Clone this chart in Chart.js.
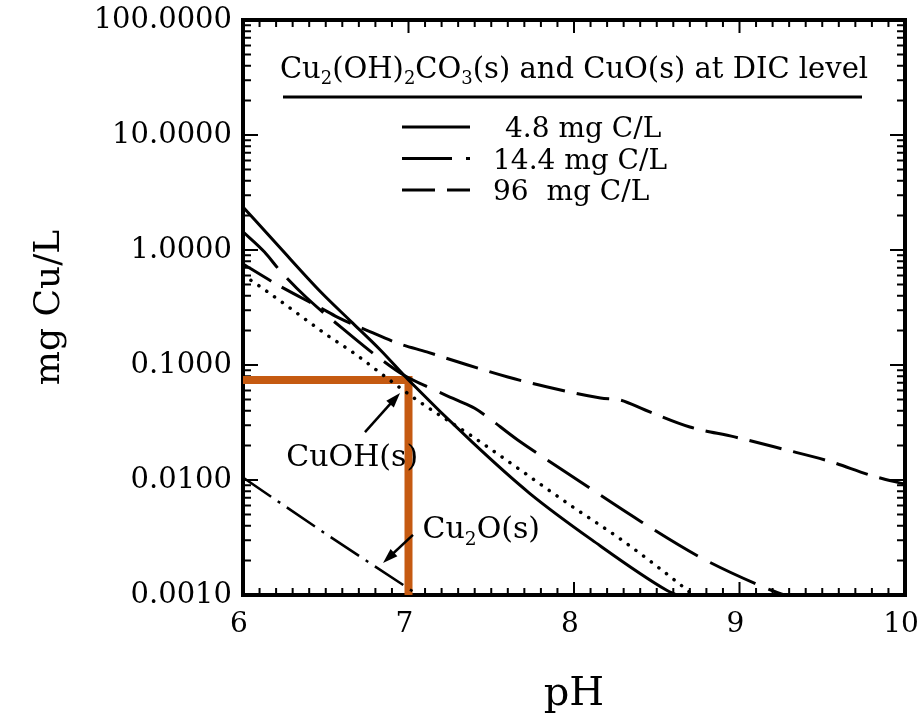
<!DOCTYPE html>
<html>
<head>
<meta charset="utf-8">
<script src="https://cdn.jsdelivr.net/npm/chart.js@4.4.0/dist/chart.umd.min.js"></script>
<style>
  html,body{margin:0;padding:0;background:#fff;}
  #wrap{width:923px;height:717px;}
</style>
</head>
<body>
<div id="wrap"><canvas id="grafico" width="923" height="717"></canvas></div>
<script>
// solubilidade do cobre (mg Cu/L) vs pH, lida ao longo de cada curva
const ph48  = [6.0, 6.22, 6.47, 6.65, 6.83, 7.0, 7.39, 7.73, 8.11, 8.56, 8.62];
const cu48  = [2.37, 1.06, 0.431, 0.241, 0.135, 0.074, 0.021, 0.0077, 0.0030, 0.0011, 0.001];

const ph144 = [6.0, 6.13, 6.22, 6.38, 6.65, 6.83, 6.97, 7.13, 7.30, 7.40, 7.66, 8.04, 8.41, 8.77, 9.14, 9.27];
const cu144 = [1.44, 0.96, 0.67, 0.39, 0.182, 0.113, 0.0818, 0.063, 0.049, 0.042, 0.0223, 0.0096, 0.0043, 0.0021, 0.00118, 0.001];

const ph96  = [6.0, 6.21, 6.47, 6.57, 6.77, 6.95, 7.11, 7.32, 7.60, 7.79, 8.16, 8.28, 8.43, 8.70, 8.97, 9.26, 9.54, 9.81, 10.0];
const cu96  = [0.755, 0.497, 0.313, 0.261, 0.194, 0.152, 0.130, 0.104, 0.0786, 0.067, 0.0517, 0.0496, 0.0406, 0.0289, 0.0237, 0.0186, 0.0146, 0.0108, 0.0092];

const phCuOH = [6.0, 6.115, 6.284, 6.508, 6.677, 6.846, 7.051, 7.39, 7.994, 8.29, 8.622, 8.72];
const cuCuOH = [0.607, 0.468, 0.313, 0.182, 0.125, 0.0818, 0.0496, 0.0237, 0.00582, 0.0030, 0.0013, 0.001];

const phCu2O = [6.0, 6.5, 6.95, 7.06];
const cuCu2O = [0.0105, 0.0034, 0.00127, 0.001];

// marcação laranja: pH 7 e a concentração correspondente
const marcaX = [6, 7, 7];
const marcaY = [0.074, 0.074, 0.001];

const xTicks = [6, 7, 8, 9, 10];
const yTicks = [0.001, 0.01, 0.1, 1, 10, 100];
const yTickLabels = ['0.0010', '0.0100', '0.1000', '1.0000', '10.0000', '100.0000'];

const serif = "'DejaVu Serif', serif";

function pares(xs, ys){ return xs.map((x,i)=>({x:x, y:ys[i]})); }

function linha(label, xs, ys, dash, extra){
    return Object.assign({
        label: label,
        data: pares(xs, ys),
        borderColor: '#000',
        borderWidth: 3,
        borderDash: dash,
        pointRadius: 0,
        cubicInterpolationMode: 'monotone',
        fill: false
    }, extra || {});
}

// moldura com marcas para dentro nos quatro lados
const moldura = {
    id: 'moldura',
    beforeDatasetsDraw(chart){
        const {ctx, chartArea:a, scales:{x, y}} = chart;
        ctx.save();
        ctx.strokeStyle = '#000';
        ctx.lineWidth = 2;
        ctx.beginPath();
        for(let i=60; i<=100; i++){
            const px = x.getPixelForValue(i/10);
            const len = i%10===0 ? 13 : 7;
            ctx.moveTo(px, a.bottom); ctx.lineTo(px, a.bottom-len);
            ctx.moveTo(px, a.top); ctx.lineTo(px, a.top+len);
        }
        for(let d=-3; d<2; d++){
            for(let m=1; m<10; m++){
                const py = y.getPixelForValue(m*Math.pow(10,d));
                const len = m===1 ? 15 : 8;
                ctx.moveTo(a.left, py); ctx.lineTo(a.left+len, py);
                ctx.moveTo(a.right, py); ctx.lineTo(a.right-len, py);
            }
        }
        ctx.stroke();
        ctx.lineWidth = 4;
        ctx.strokeRect(a.left, a.top, a.width, a.height);
        ctx.restore();
    }
};

// texto com índices (subscritos)
function textoSub(ctx, partes, cx, base, size, centro){
    let w = 0;
    partes.forEach(p=>{
        ctx.font = (p[1] ? size*0.62 : size) + 'px ' + serif;
        w += ctx.measureText(p[0]).width;
    });
    let x = centro ? cx - w/2 : cx;
    partes.forEach(p=>{
        ctx.font = (p[1] ? size*0.62 : size) + 'px ' + serif;
        ctx.fillText(p[0], x, p[1] ? base + size*0.22 : base);
        x += ctx.measureText(p[0]).width;
    });
}

function seta(ctx, x1, y1, x2, y2){
    const ang = Math.atan2(y2-y1, x2-x1);
    ctx.beginPath();
    ctx.moveTo(x1, y1);
    ctx.lineTo(x2 - 8*Math.cos(ang), y2 - 8*Math.sin(ang));
    ctx.stroke();
    ctx.beginPath();
    ctx.moveTo(x2, y2);
    ctx.lineTo(x2 - 15*Math.cos(ang) + 5*Math.sin(ang), y2 - 15*Math.sin(ang) - 5*Math.cos(ang));
    ctx.lineTo(x2 - 15*Math.cos(ang) - 5*Math.sin(ang), y2 - 15*Math.sin(ang) + 5*Math.cos(ang));
    ctx.closePath();
    ctx.fill();
}

const legendaIndent = [12, 0, 0];

const anotacoes = {
    id: 'anotacoes',
    afterDraw(chart){
        const {ctx, chartArea:a, scales:{x, y}} = chart;
        ctx.save();
        ctx.fillStyle = '#000';
        ctx.strokeStyle = '#000';
        ctx.textBaseline = 'alphabetic';
        ctx.textAlign = 'left';

        // título da legenda, sublinhado
        const cx = (a.left + a.right)/2;
        textoSub(ctx, [['Cu'],['2',1],['(OH)'],['2',1],['CO'],['3',1],['(s) and CuO(s) at DIC level']], cx, 78, 29, true);
        ctx.lineWidth = 3;
        ctx.beginPath();
        ctx.moveTo(a.left+40, 97); ctx.lineTo(a.right-43, 97);
        ctx.stroke();

        // entradas da legenda
        const ds = chart.data.datasets.slice(0, 3);
        ds.forEach((d, i)=>{
            const py = 127 + i*31.5;
            ctx.save();
            ctx.lineWidth = 3;
            ctx.setLineDash(d.borderDash || []);
            ctx.beginPath();
            ctx.moveTo(402, py); ctx.lineTo(470, py);
            ctx.stroke();
            ctx.restore();
            ctx.font = '28px ' + serif;
            ctx.fillText(d.label, 493 + legendaIndent[i], py + 10);
        });

        // rótulos das fases sólidas
        ctx.lineWidth = 2.5;
        ctx.font = '30px ' + serif;
        ctx.textAlign = 'center';
        ctx.fillText('CuOH(s)', x.getPixelForValue(6.66), y.getPixelForValue(0.0165) + 11);
        seta(ctx, x.getPixelForValue(6.737), y.getPixelForValue(0.0261), x.getPixelForValue(6.949), y.getPixelForValue(0.0571));
        ctx.textAlign = 'left';
        textoSub(ctx, [['Cu'],['2',1],['O(s)']], x.getPixelForValue(7.44), y.getPixelForValue(0.0039) + 11, 30, true);
        seta(ctx, x.getPixelForValue(7.027), y.getPixelForValue(0.00333), x.getPixelForValue(6.846), y.getPixelForValue(0.0019));
        ctx.restore();
    }
};

new Chart(document.getElementById('grafico'), {
    type: 'line',
    data: {
        datasets: [
            linha('4.8 mg C/L', ph48, cu48, []),
            linha('14.4 mg C/L', ph144, cu144, [50, 14]),
            linha('96  mg C/L', ph96, cu96, [33, 12]),
            linha('CuOH(s)', phCuOH, cuCuOH, [0.1, 9.5], {borderWidth: 3.5, borderCapStyle: 'round'}),
            linha('Cu2O(s)', phCu2O, cuCu2O, [34, 8, 3, 8], {borderWidth: 2.5, cubicInterpolationMode: 'default', tension: 0}),
            {
                label: 'pH 7',
                data: pares(marcaX, marcaY),
                borderColor: '#c55a11',
                borderWidth: 8,
                pointRadius: 0,
                tension: 0,
                borderJoinStyle: 'miter',
                clip: false,
                fill: false
            }
        ]
    },
    options: {
        responsive: false,
        animation: false,
        layout: {padding: {top: 20, right: 18, left: 0, bottom: 0}},
        plugins: {legend: {display: false}, tooltip: {enabled: false}},
        scales: {
            x: {
                type: 'linear', min: 6, max: 10,
                afterBuildTicks: s => { s.ticks = xTicks.map(v=>({value: v})); },
                afterFit: s => { s.height = 122; s.paddingLeft = 0; s.paddingRight = 0; },
                grid: {display: false, drawTicks: false},
                border: {display: false},
                ticks: {font: {family: serif, size: 28}, color: '#000', padding: 13, maxRotation: 0, labelOffset: -4},
                title: {display: true, text: 'pH', color: '#000', font: {family: serif, size: 40, lineHeight: 1}, padding: {top: 0, bottom: 2}}
            },
            y: {
                type: 'logarithmic', min: 0.001, max: 100,
                afterBuildTicks: s => { s.ticks = yTicks.map(v=>({value: v})); },
                afterFit: s => { s.width = 243; s.paddingTop = 0; s.paddingBottom = 0; },
                grid: {display: false, drawTicks: false},
                border: {display: false},
                ticks: {font: {family: serif, size: 29}, color: '#000', padding: 11,
                        callback: (v, i) => yTickLabels[i]},
                title: {display: true, text: 'mg Cu/L', color: '#000', font: {family: serif, size: 36, lineHeight: 1}, padding: {top: 32, bottom: 0}}
            }
        }
    },
    plugins: [moldura, anotacoes]
});
</script>
</body>
</html>
